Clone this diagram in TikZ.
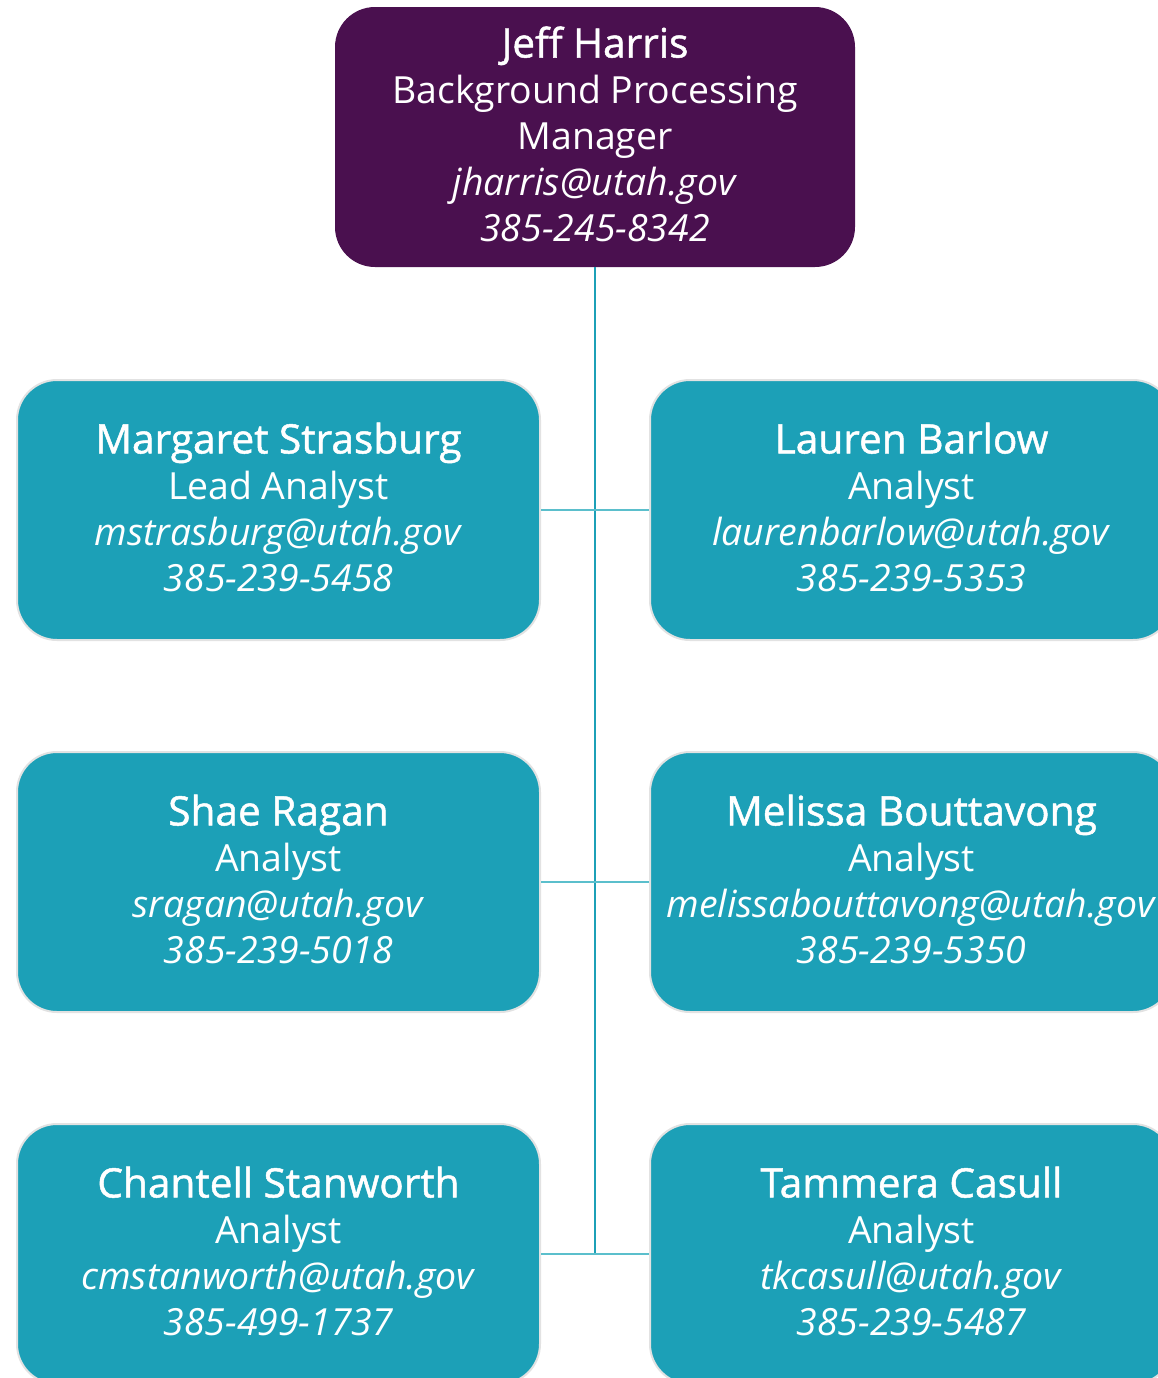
\documentclass[tikz,border=0pt]{standalone}
\usepackage{fontspec}
\setmainfont{Open Sans}
\newfontface\namefont{Open Sans}[FakeBold=1.2]
\usepackage{xcolor}
\usepackage{tikz}

\definecolor{plum}{HTML}{4A104F}
\definecolor{cardteal}{HTML}{1CA0B7}
\definecolor{cardedge}{HTML}{E2E2E2}
\definecolor{branchteal}{HTML}{5BBFCC}

\newcommand{\who}[1]{{\namefont\fontsize{20.3}{23}\selectfont #1}}
\newcommand{\tel}[1]{\textit{#1}\rule[-3pt]{0pt}{0pt}}

\tikzset{
	card/.style={rounded corners=20pt, minimum width=261.5pt, minimum height=130pt,
		inner sep=0pt, align=center, text=white, font=\fontsize{18.7}{23}\selectfont},
	chief/.style={card, fill=plum, minimum width=260pt},
	staff/.style={card, fill=cardteal, draw=cardedge, line width=1pt},
	trunk/.style={cardteal, line width=1pt},
	branch/.style={branchteal, line width=1pt}
}

\begin{document}
\begin{tikzpicture}[x=0.5pt,y=-0.5pt]
	\useasboundingbox (0,0) rectangle (1158,1378);
	\clip (0,0) rectangle (1158,1378);

	\node[chief] (jh) at (595,137) {\who{Jeff Harris}\\Background Processing\\Manager\\\textit{jharris@utah.gov}\\\tel{385-245-8342}};

	\node[staff] (ms) at (278.5,510) {\who{Margaret Strasburg}\\Lead Analyst\\\textit{mstrasburg@utah.gov}\\\tel{385-239-5458}};
	\node[staff] (lb) at (911.5,510) {\who{Lauren Barlow}\\Analyst\\\textit{laurenbarlow@utah.gov}\\\tel{385-239-5353}};

	\node[staff] (sr) at (278.5,882) {\who{Shae Ragan}\\Analyst\\\textit{sragan@utah.gov}\\\tel{385-239-5018}};
	\node[staff] (mb) at (911.5,882) {\who{Melissa Bouttavong}\\Analyst\\\textit{melissabouttavong@utah.gov}\\\tel{385-239-5350}};

	\node[staff] (cs) at (278.5,1254) {\who{Chantell Stanworth}\\Analyst\\\textit{cmstanworth@utah.gov}\\\tel{385-499-1737}};
	\node[staff] (tc) at (911.5,1254) {\who{Tammera Casull}\\Analyst\\\textit{tkcasull@utah.gov}\\\tel{385-239-5487}};

	\draw[trunk] (jh.south) -- (jh.south |- tc.west);
	\foreach \l/\r in {ms/lb,sr/mb,cs/tc}{
		\draw[branch] (\l.east) -- (\r.west);
	}
\end{tikzpicture}
\end{document}
